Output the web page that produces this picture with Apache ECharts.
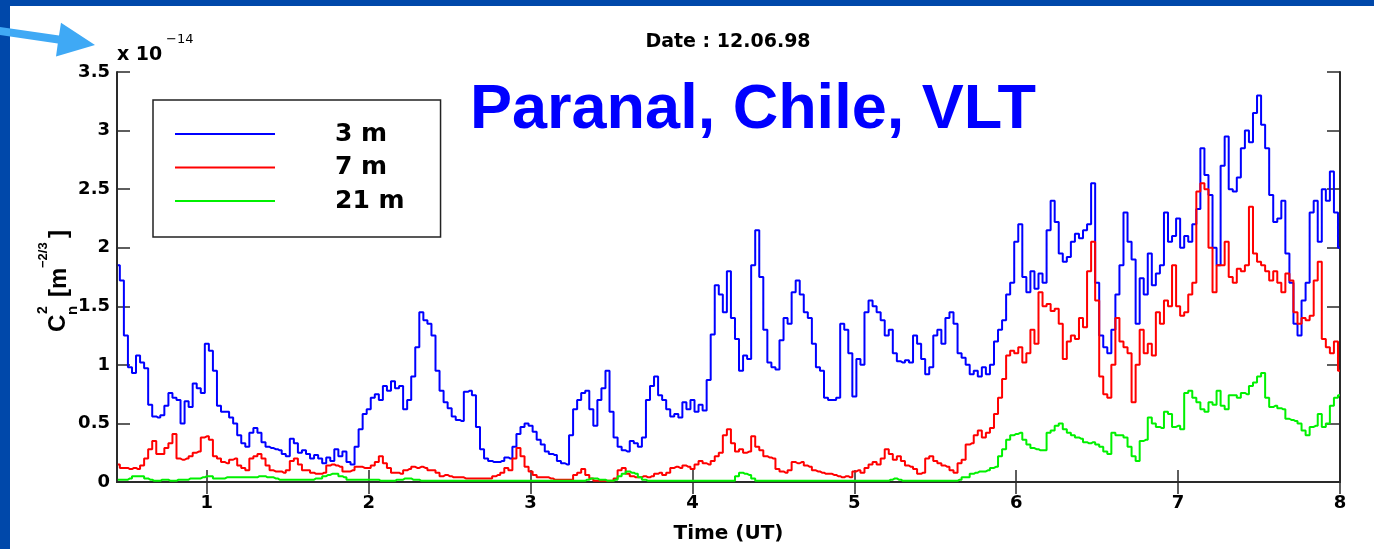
<!DOCTYPE html>
<html>
<head>
<meta charset="utf-8">
<script src="https://cdn.jsdelivr.net/npm/echarts@6/dist/echarts.min.js"></script>
<style>
html,body{margin:0;padding:0;background:#fff;overflow:hidden;}
#chart{width:1374px;height:549px;}
</style>
</head>
<body>
<div id="chart"></div>
<script>
// Sampling grid: hours UT, first sample and spacing (one row below = 0.5 h)
const TIME_START = 0.45;
const TIME_STEP = 0.025;

const seriesNames = ['3 m', '7 m', '21 m'];

// Cn^2 values in units of 1e-14 m^-2/3
const blue3m = [
  1.85,1.72,1.25,0.98,0.93,1.08,1.02,0.97,0.66,0.56,0.55,0.57,0.65,0.76,0.72,0.70,0.50,0.69,0.64,0.84,
  0.80,0.76,1.18,1.12,0.95,0.65,0.60,0.60,0.55,0.50,0.40,0.33,0.30,0.42,0.46,0.42,0.34,0.30,0.29,0.28,
  0.27,0.24,0.22,0.37,0.33,0.25,0.27,0.24,0.20,0.23,0.20,0.16,0.21,0.18,0.28,0.22,0.26,0.17,0.15,0.30,
  0.45,0.58,0.62,0.72,0.75,0.70,0.82,0.78,0.86,0.80,0.82,0.62,0.70,0.90,1.15,1.45,1.38,1.35,1.25,0.95,
  0.78,0.68,0.63,0.56,0.53,0.52,0.77,0.78,0.74,0.47,0.28,0.20,0.18,0.17,0.17,0.18,0.21,0.20,0.30,0.41,
  0.47,0.50,0.48,0.43,0.36,0.32,0.26,0.24,0.23,0.18,0.16,0.15,0.40,0.62,0.70,0.76,0.78,0.62,0.48,0.70,
  0.80,0.95,0.60,0.38,0.30,0.27,0.26,0.35,0.33,0.30,0.38,0.70,0.82,0.90,0.74,0.70,0.62,0.56,0.58,0.55,
  0.68,0.62,0.70,0.60,0.66,0.61,0.87,1.26,1.68,1.60,1.45,1.80,1.40,1.22,0.95,1.08,1.05,1.85,2.15,1.75,
  1.30,1.02,0.98,0.96,1.21,1.40,1.35,1.62,1.72,1.60,1.45,1.40,1.18,0.98,0.95,0.72,0.70,0.70,0.72,1.35,
  1.30,1.10,0.73,1.05,1.00,1.45,1.55,1.50,1.45,1.38,1.25,1.30,1.10,1.03,1.02,1.04,1.02,1.25,1.18,1.05,
  0.92,0.98,1.25,1.30,1.18,1.40,1.45,1.35,1.10,1.06,1.00,0.92,0.95,0.90,0.98,0.92,1.00,1.20,1.30,1.38,
  1.60,1.70,2.05,2.20,1.75,1.62,1.80,1.65,1.78,1.70,2.15,2.40,2.22,1.95,1.88,1.92,2.05,2.12,2.08,2.15,
  2.20,2.55,1.70,1.25,1.15,1.10,1.30,1.60,1.85,2.30,2.05,1.90,1.35,1.74,1.60,1.95,1.68,1.78,1.85,2.30,
  2.05,2.10,2.25,2.00,2.10,2.05,2.20,2.33,2.85,2.62,2.45,2.00,1.85,2.70,2.95,2.50,2.48,2.60,2.85,3.00,
  2.90,3.15,3.30,3.05,2.85,2.45,2.22,2.25,2.40,1.95,1.70,1.35,1.25,1.55,1.70,2.30,2.40,2.05,2.50,2.40,
  2.65,2.30,2.00
];
const red7m = [
  0.15,0.12,0.12,0.11,0.12,0.11,0.14,0.20,0.28,0.35,0.24,0.24,0.29,0.33,0.41,0.20,0.19,0.20,0.22,0.25,
  0.26,0.38,0.39,0.36,0.22,0.20,0.17,0.16,0.19,0.20,0.14,0.12,0.10,0.20,0.22,0.24,0.20,0.14,0.10,0.09,
  0.09,0.08,0.10,0.18,0.20,0.15,0.10,0.10,0.08,0.07,0.07,0.08,0.14,0.15,0.14,0.13,0.09,0.09,0.10,0.13,
  0.13,0.12,0.12,0.14,0.17,0.22,0.16,0.12,0.08,0.08,0.07,0.10,0.11,0.13,0.12,0.13,0.12,0.10,0.10,0.08,
  0.05,0.06,0.05,0.04,0.04,0.04,0.03,0.03,0.03,0.03,0.03,0.03,0.03,0.05,0.06,0.08,0.12,0.10,0.20,0.29,
  0.22,0.13,0.09,0.06,0.04,0.04,0.04,0.03,0.02,0.02,0.02,0.02,0.02,0.06,0.08,0.11,0.06,0.03,0.01,0.01,
  0.01,0.01,0.01,0.03,0.10,0.12,0.07,0.05,0.04,0.04,0.05,0.04,0.05,0.07,0.08,0.06,0.08,0.12,0.13,0.12,
  0.14,0.13,0.11,0.15,0.18,0.16,0.15,0.18,0.22,0.25,0.40,0.45,0.33,0.26,0.28,0.25,0.26,0.39,0.30,0.27,
  0.22,0.21,0.20,0.11,0.09,0.08,0.10,0.17,0.16,0.17,0.14,0.13,0.10,0.09,0.08,0.07,0.07,0.06,0.05,0.04,
  0.05,0.04,0.09,0.10,0.08,0.12,0.15,0.17,0.15,0.20,0.28,0.24,0.19,0.22,0.18,0.14,0.13,0.11,0.07,0.08,
  0.20,0.22,0.18,0.16,0.14,0.13,0.10,0.08,0.16,0.19,0.32,0.33,0.40,0.44,0.38,0.42,0.46,0.58,0.72,0.88,
  1.08,1.12,1.10,1.15,1.02,1.10,1.30,1.18,1.62,1.50,1.52,1.46,1.48,1.35,1.05,1.20,1.25,1.22,1.40,1.32,
  1.80,2.05,1.55,0.90,0.75,0.72,1.00,1.40,1.20,1.15,1.10,0.68,1.00,1.30,1.10,1.18,1.08,1.45,1.35,1.55,
  1.50,1.85,1.50,1.42,1.45,1.60,1.70,2.48,2.55,2.50,2.00,1.62,1.85,1.85,2.05,1.75,1.70,1.82,1.80,1.85,
  2.35,1.95,1.88,1.85,1.80,1.72,1.80,1.70,1.62,1.78,1.72,1.45,1.35,1.40,1.38,1.42,1.72,1.88,1.22,1.15,
  1.10,1.20,0.95
];
const green21m = [
  0.02,0.02,0.02,0.03,0.05,0.05,0.05,0.03,0.02,0.01,0.01,0.02,0.02,0.01,0.01,0.02,0.02,0.02,0.03,0.03,
  0.03,0.04,0.05,0.05,0.03,0.03,0.03,0.04,0.04,0.04,0.04,0.04,0.04,0.04,0.04,0.05,0.05,0.04,0.04,0.03,
  0.02,0.02,0.02,0.02,0.02,0.02,0.02,0.02,0.02,0.03,0.03,0.05,0.06,0.07,0.07,0.05,0.04,0.02,0.02,0.02,
  0.02,0.02,0.02,0.02,0.02,0.01,0.01,0.01,0.01,0.02,0.02,0.03,0.03,0.02,0.02,0.01,0.01,0.01,0.01,0.01,
  0.01,0.01,0.01,0.01,0.01,0.01,0.01,0.01,0.01,0.01,0.01,0.01,0.01,0.01,0.01,0.01,0.01,0.01,0.01,0.01,
  0.01,0.01,0.01,0.01,0.01,0.01,0.01,0.01,0.01,0.01,0.01,0.01,0.01,0.01,0.01,0.01,0.02,0.03,0.03,0.02,
  0.02,0.01,0.01,0.02,0.05,0.07,0.09,0.08,0.07,0.04,0.02,0.01,0.01,0.01,0.01,0.01,0.01,0.01,0.01,0.01,
  0.01,0.01,0.01,0.01,0.01,0.01,0.01,0.01,0.01,0.01,0.01,0.01,0.01,0.05,0.08,0.07,0.06,0.03,0.01,0.01,
  0.01,0.01,0.01,0.01,0.01,0.01,0.01,0.01,0.01,0.01,0.01,0.01,0.01,0.01,0.01,0.01,0.01,0.01,0.01,0.01,
  0.01,0.01,0.01,0.01,0.01,0.01,0.01,0.01,0.01,0.01,0.01,0.02,0.03,0.02,0.01,0.01,0.01,0.01,0.01,0.01,
  0.01,0.01,0.01,0.01,0.01,0.01,0.01,0.01,0.02,0.04,0.04,0.07,0.08,0.09,0.09,0.10,0.12,0.13,0.22,0.28,
  0.36,0.40,0.41,0.42,0.36,0.32,0.29,0.28,0.27,0.27,0.42,0.44,0.48,0.50,0.45,0.42,0.40,0.38,0.37,0.34,
  0.33,0.34,0.32,0.30,0.26,0.24,0.42,0.40,0.40,0.38,0.30,0.22,0.18,0.35,0.36,0.55,0.50,0.47,0.46,0.60,
  0.58,0.47,0.48,0.45,0.76,0.78,0.72,0.68,0.62,0.60,0.68,0.66,0.78,0.65,0.62,0.74,0.74,0.72,0.76,0.75,
  0.82,0.85,0.90,0.93,0.72,0.64,0.65,0.63,0.62,0.54,0.53,0.52,0.50,0.44,0.40,0.47,0.48,0.58,0.47,0.50,
  0.65,0.72,0.74
];

const xTickValues = [1, 2, 3, 4, 5, 6, 7, 8];
const yTickLabels = ['0', '0.5', '1', '1.5', '2', '2.5', '3', '3.5'];

function toPairs(values) {
  return values.map(function (v, i) {
    return [+(TIME_START + i * TIME_STEP).toFixed(3), v];
  });
}

const chart = echarts.init(document.getElementById('chart'), null, {renderer: 'canvas', width: 1374, height: 549});

const axisColor = '#2a2a2a';
const tickFont = {fontFamily: 'DejaVu Sans', fontWeight: 'bold', fontSize: 18, color: '#000'};

const option = {
  backgroundColor: '#ffffff',
  animation: false,
  grid: {left: 117, right: 34, top: 72, bottom: 63, containLabel: false},
  legend: {
    data: seriesNames,
    orient: 'vertical',
    left: 153,
    top: 100,
    padding: [20, 36, 22, 22],
    icon: 'rect',
    itemWidth: 100,
    itemHeight: 2,
    itemGap: 5.5,
    selectedMode: false,
    backgroundColor: '#ffffff',
    borderColor: '#222',
    borderWidth: 1.5,
    textStyle: {
      fontFamily: 'DejaVu Sans', fontWeight: 'bold', fontSize: 25, color: '#000',
      lineHeight: 28, padding: [0, 0, 0, 55]
    }
  },
  xAxis: [
    {
      type: 'value', position: 'bottom', min: 0.445, max: 8,
      axisLine: {show: true, lineStyle: {color: axisColor, width: 2}},
      axisTick: {show: true, inside: true, length: 12, customValues: xTickValues, lineStyle: {color: axisColor, width: 1.5}},
      axisLabel: Object.assign({show: true, margin: 12, customValues: xTickValues, formatter: function (v) { return String(v); }}, tickFont),
      splitLine: {show: false},
      name: 'Time (UT)', nameLocation: 'middle', nameGap: 42,
      nameTextStyle: {fontFamily: 'DejaVu Sans', fontWeight: 'bold', fontSize: 20, color: '#000'}
    },
    {
      type: 'value', position: 'top', min: 0.445, max: 8,
      axisLine: {show: true, lineStyle: {color: axisColor, width: 2}},
      axisTick: {show: true, inside: true, length: 12, customValues: xTickValues, lineStyle: {color: axisColor, width: 1.5}},
      axisLabel: {show: false},
      splitLine: {show: false}
    }
  ],
  yAxis: [
    {
      type: 'value', position: 'left', min: 0, max: 3.5, interval: 0.5,
      axisLine: {show: true, lineStyle: {color: axisColor, width: 2}},
      axisTick: {show: true, inside: true, length: 13, lineStyle: {color: axisColor, width: 1.5}},
      axisLabel: Object.assign({show: true, margin: 7, formatter: function (v) {
        const idx = Math.round(v / 0.5);
        return yTickLabels[idx] !== undefined ? yTickLabels[idx] : String(v);
      }}, tickFont),
      splitLine: {show: false}
    },
    {
      type: 'value', position: 'right', min: 0, max: 3.5, interval: 0.5,
      axisLine: {show: true, lineStyle: {color: axisColor, width: 2}},
      axisTick: {show: true, inside: true, length: 13, lineStyle: {color: axisColor, width: 1.5}},
      axisLabel: {show: false},
      splitLine: {show: false}
    }
  ],
  series: [
    {name: seriesNames[0], type: 'line', step: 'middle', symbol: 'none', xAxisIndex: 0, yAxisIndex: 0,
     data: toPairs(blue3m), lineStyle: {color: '#0000ff', width: 2}, itemStyle: {color: '#0000ff'}},
    {name: seriesNames[1], type: 'line', step: 'middle', symbol: 'none', xAxisIndex: 0, yAxisIndex: 0,
     data: toPairs(red7m), lineStyle: {color: '#ff0000', width: 2}, itemStyle: {color: '#ff0000'}},
    {name: seriesNames[2], type: 'line', step: 'middle', symbol: 'none', xAxisIndex: 0, yAxisIndex: 0,
     data: toPairs(green21m), lineStyle: {color: '#00f000', width: 2}, itemStyle: {color: '#00f000'}}
  ],
  graphic: [
    {type: 'rect', left: 0, top: 0, shape: {width: 1374, height: 6}, style: {fill: '#0048aa'}, z: 100},
    {type: 'rect', left: 0, top: 0, shape: {width: 10, height: 549}, style: {fill: '#0048aa'}, z: 100},
    {type: 'polygon', z: 101,
     shape: {points: [[0, 27], [59, 35.6], [61, 22.8], [95, 45], [56, 56.4], [57.8, 43.6], [0, 35]]},
     style: {fill: '#3fa9f5'}},
    {type: 'text', x: 728, y: 42, z: 50,
     style: {text: 'Date : 12.06.98', fill: '#000', font: 'bold 19px "DejaVu Sans"', textAlign: 'center', textVerticalAlign: 'middle'}},
    {type: 'text', x: 117, y: 55, z: 50,
     style: {text: 'x 10', fill: '#000', font: 'bold 19px "DejaVu Sans"', textAlign: 'left', textVerticalAlign: 'middle'}},
    {type: 'text', x: 166, y: 40, z: 50,
     style: {text: '\u221214', fill: '#000', font: '13px "DejaVu Sans"', textAlign: 'left', textVerticalAlign: 'middle'}},
    {type: 'text', x: 470, y: 111, z: 50,
     style: {text: 'Paranal, Chile, VLT', fill: '#0000ff', font: 'bold 63px "Liberation Sans"', textAlign: 'left', textVerticalAlign: 'middle'}},
    // y-axis title, read bottom to top
    {type: 'text', x: 58, y: 332, rotation: Math.PI / 2, z: 50,
     style: {text: 'C', fill: '#000', font: 'bold 24px "Liberation Sans"', textAlign: 'left', textVerticalAlign: 'middle'}},
    {type: 'text', x: 43, y: 314, rotation: Math.PI / 2, z: 50,
     style: {text: '2', fill: '#000', font: 'bold 14px "Liberation Sans"', textAlign: 'left', textVerticalAlign: 'middle'}},
    {type: 'text', x: 73, y: 315, rotation: Math.PI / 2, z: 50,
     style: {text: 'n', fill: '#000', font: 'bold 15px "Liberation Sans"', textAlign: 'left', textVerticalAlign: 'middle'}},
    {type: 'text', x: 59, y: 297, rotation: Math.PI / 2, z: 50,
     style: {text: '[m', fill: '#000', font: 'bold 24px "Liberation Sans"', textAlign: 'left', textVerticalAlign: 'middle'}},
    {type: 'text', x: 43, y: 268, rotation: Math.PI / 2, z: 50,
     style: {text: '\u22122/3', fill: '#000', font: 'bold 13px "Liberation Sans"', textAlign: 'left', textVerticalAlign: 'middle'}},
    {type: 'text', x: 59, y: 238, rotation: Math.PI / 2, z: 50,
     style: {text: ']', fill: '#000', font: 'bold 24px "Liberation Sans"', textAlign: 'left', textVerticalAlign: 'middle'}}
  ]
};

chart.setOption(option);
</script>
</body>
</html>
